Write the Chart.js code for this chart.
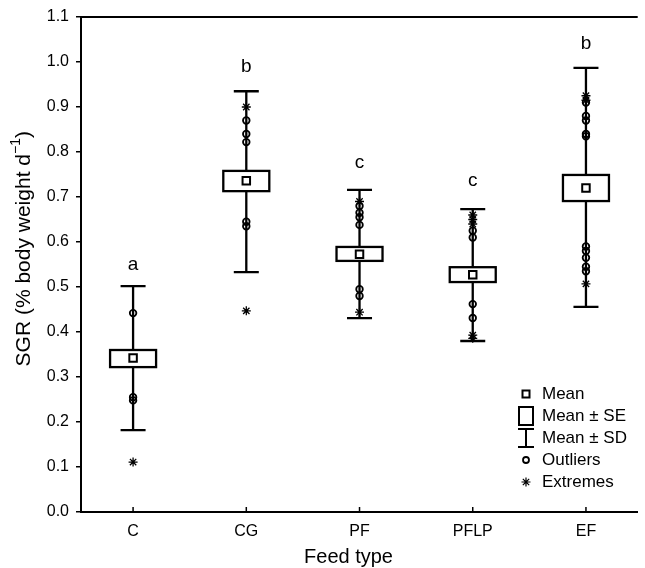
<!DOCTYPE html>
<html>
<head>
<meta charset="utf-8">
<script src="https://cdn.jsdelivr.net/npm/chart.js@4/dist/chart.umd.min.js"></script>
<style>
  body { margin: 0; background: #fff; }
  #wrap { width: 645px; height: 568px; }
</style>
</head>
<body>
<div id="wrap"><canvas id="chart" width="645" height="568"></canvas></div>
<script>
(() => {
    // values
    const categories = ['C', 'CG', 'PF', 'PFLP', 'EF'];
    const yTicks = [0, 0.1, 0.2, 0.3, 0.4, 0.5, 0.6, 0.7, 0.8, 0.9, 1.0, 1.1];
    const means = [0.342, 0.736, 0.573, 0.527, 0.720];
    const seLow = [0.322, 0.713, 0.558, 0.511, 0.691];
    const seHigh = [0.360, 0.758, 0.589, 0.544, 0.749];
    const sdLow = [0.182, 0.533, 0.431, 0.380, 0.456];
    const sdHigh = [0.502, 0.935, 0.716, 0.673, 0.987];
    const outliers = [
        [0.442, 0.255, 0.248],
        [0.87, 0.84, 0.822, 0.645, 0.635],
        [0.68, 0.665, 0.655, 0.638, 0.495, 0.48],
        [0.625, 0.61, 0.462, 0.431],
        [0.91, 0.88, 0.87, 0.84, 0.835, 0.59, 0.58, 0.565, 0.545, 0.535]
    ];
    const extremes = [
        [0.111],
        [0.90, 0.447],
        [0.69, 0.444],
        [0.66, 0.65, 0.64, 0.393, 0.386],
        [0.925, 0.915, 0.507]
    ];
    const groupLetters = ['a', 'b', 'c', 'c', 'b'];
    const letterLevels = [0.55, 0.99, 0.775, 0.735, 1.04];

    const FONT = "'Liberation Sans', Arial, sans-serif";

    const toPoints = (groups) => groups.flatMap((g, i) => g.map(v => ({ x: i, y: v })));

    // draws the SE boxes, SD whiskers, frame, letters, axis titles and legend
    const boxPlugin = {
        id: 'boxes',
        beforeDatasetsDraw(chart) {
            const { ctx, scales: { x, y } } = chart;
            ctx.save();
            ctx.strokeStyle = '#000';
            ctx.lineWidth = 2.3;
            categories.forEach((c, i) => {
                const px = x.getPixelForValue(i);
                const top = y.getPixelForValue(sdHigh[i]);
                const bot = y.getPixelForValue(sdLow[i]);
                ctx.beginPath();
                ctx.moveTo(px, top); ctx.lineTo(px, bot);
                ctx.moveTo(px - 12.5, top); ctx.lineTo(px + 12.5, top);
                ctx.moveTo(px - 12.5, bot); ctx.lineTo(px + 12.5, bot);
                ctx.stroke();
                const bt = y.getPixelForValue(seHigh[i]);
                const bb = y.getPixelForValue(seLow[i]);
                ctx.fillStyle = '#fff';
                ctx.fillRect(px - 23, bt, 46, bb - bt);
                ctx.strokeRect(px - 23, bt, 46, bb - bt);
            });
            ctx.restore();
        },
        afterDraw(chart) {
            const { ctx, chartArea, scales: { x, y } } = chart;
            ctx.save();
            ctx.strokeStyle = '#000';
            ctx.fillStyle = '#000';
            // top frame line
            ctx.lineWidth = 2;
            ctx.beginPath();
            ctx.moveTo(chartArea.left - 1, chartArea.top);
            ctx.lineTo(chartArea.right, chartArea.top);
            ctx.stroke();
            // x ticks pointing inward
            ctx.lineWidth = 1.5;
            categories.forEach((c, i) => {
                const px = x.getPixelForValue(i);
                ctx.beginPath();
                ctx.moveTo(px, chartArea.bottom);
                ctx.lineTo(px, chartArea.bottom - 5);
                ctx.stroke();
            });
            // group letters
            ctx.font = '19px ' + FONT;
            ctx.textAlign = 'center';
            ctx.textBaseline = 'middle';
            groupLetters.forEach((l, i) => {
                ctx.fillText(l, x.getPixelForValue(i), y.getPixelForValue(letterLevels[i]));
            });
            // x title
            ctx.font = '20px ' + FONT;
            ctx.fillText('Feed type', x.getPixelForValue(2) - 11, 557);
            // y title with superscript
            ctx.save();
            ctx.translate(24, y.getPixelForValue(0.585));
            ctx.rotate(-Math.PI / 2);
            const main = 'SGR (% body weight d';
            const sup = '\u22121';
            const end = ')';
            ctx.font = '21px ' + FONT;
            const w1 = ctx.measureText(main).width;
            const w3 = ctx.measureText(end).width;
            ctx.font = '14px ' + FONT;
            const w2 = ctx.measureText(sup).width;
            let sx = -(w1 + w2 + w3) / 2;
            ctx.textAlign = 'left';
            ctx.font = '21px ' + FONT;
            ctx.fillText(main, sx, 0);
            ctx.font = '14px ' + FONT;
            ctx.fillText(sup, sx + w1, -8);
            ctx.font = '21px ' + FONT;
            ctx.fillText(end, sx + w1 + w2, 0);
            ctx.restore();

            // legend
            const lx = 526, tx = 542;
            const rows = [394, 416, 438, 460, 482];
            const labels = ['Mean', 'Mean \u00b1 SE', 'Mean \u00b1 SD', 'Outliers', 'Extremes'];
            ctx.font = '17px ' + FONT;
            ctx.textAlign = 'left';
            ctx.textBaseline = 'middle';
            labels.forEach((l, i) => ctx.fillText(l, tx, rows[i]));
            ctx.lineWidth = 2;
            ctx.strokeRect(lx - 3.5, rows[0] - 3.5, 7, 7);
            ctx.strokeRect(lx - 7, rows[1] - 9, 14, 18);
            ctx.beginPath();
            ctx.moveTo(lx, rows[2] - 9); ctx.lineTo(lx, rows[2] + 9);
            ctx.moveTo(lx - 8, rows[2] - 9); ctx.lineTo(lx + 8, rows[2] - 9);
            ctx.moveTo(lx - 8, rows[2] + 9); ctx.lineTo(lx + 8, rows[2] + 9);
            ctx.stroke();
            ctx.lineWidth = 1.8;
            ctx.beginPath();
            ctx.arc(lx, rows[3], 3, 0, Math.PI * 2);
            ctx.stroke();
            ctx.lineWidth = 1.2;
            ctx.beginPath();
            for (let k = 0; k < 4; k++) {
                const a = k * Math.PI / 4;
                ctx.moveTo(lx - 4.5 * Math.cos(a), rows[4] - 4.5 * Math.sin(a));
                ctx.lineTo(lx + 4.5 * Math.cos(a), rows[4] + 4.5 * Math.sin(a));
            }
            ctx.stroke();
            ctx.restore();
        }
    };

    const ctx = document.getElementById('chart');
    new Chart(ctx, {
        type: 'scatter',
        data: {
            datasets: [
                {
                    label: 'Mean',
                    data: means.map((v, i) => ({ x: i, y: v })),
                    pointStyle: 'rect',
                    pointRadius: 5.3,
                    pointBackgroundColor: '#fff',
                    pointBorderColor: '#000',
                    pointBorderWidth: 2
                },
                {
                    label: 'Outliers',
                    data: toPoints(outliers),
                    pointStyle: 'circle',
                    pointRadius: 3.3,
                    pointBackgroundColor: 'rgba(0,0,0,0)',
                    pointBorderColor: '#000',
                    pointBorderWidth: 1.8
                },
                {
                    label: 'Extremes',
                    data: toPoints(extremes),
                    pointStyle: 'star',
                    pointRadius: 4.5,
                    pointBorderColor: '#000',
                    pointBorderWidth: 1.3
                }
            ]
        },
        options: {
            responsive: false,
            animation: false,
            layout: { padding: { top: 17, right: 0, left: 0, bottom: 0 } },
            plugins: { legend: { display: false }, tooltip: { enabled: false } },
            scales: {
                x: {
                    type: 'linear',
                    min: -0.46,
                    max: 4.457,
                    afterBuildTicks: (s) => { s.ticks = categories.map((c, i) => ({ value: i })); },
                    afterFit: (s) => { s.height = 56; },
                    ticks: {
                        callback: (v) => categories[v],
                        font: { size: 16, family: FONT },
                        color: '#000',
                        padding: 10,
                        autoSkip: false,
                        maxRotation: 0
                    },
                    grid: { display: false, drawTicks: false },
                    border: { display: true, color: '#000', width: 2 }
                },
                y: {
                    min: 0,
                    max: 1.1,
                    afterBuildTicks: (s) => { s.ticks = yTicks.map(v => ({ value: v })); },
                    afterFit: (s) => { s.width = 81; },
                    ticks: {
                        callback: (v) => v.toFixed(1),
                        font: { size: 16, family: FONT },
                        color: '#000',
                        padding: 7
                    },
                    grid: { drawOnChartArea: false, color: '#000', tickLength: 5, lineWidth: 1.5 },
                    border: { display: true, color: '#000', width: 2 }
                }
            }
        },
        plugins: [boxPlugin]
    });
})();
</script>
</body>
</html>
